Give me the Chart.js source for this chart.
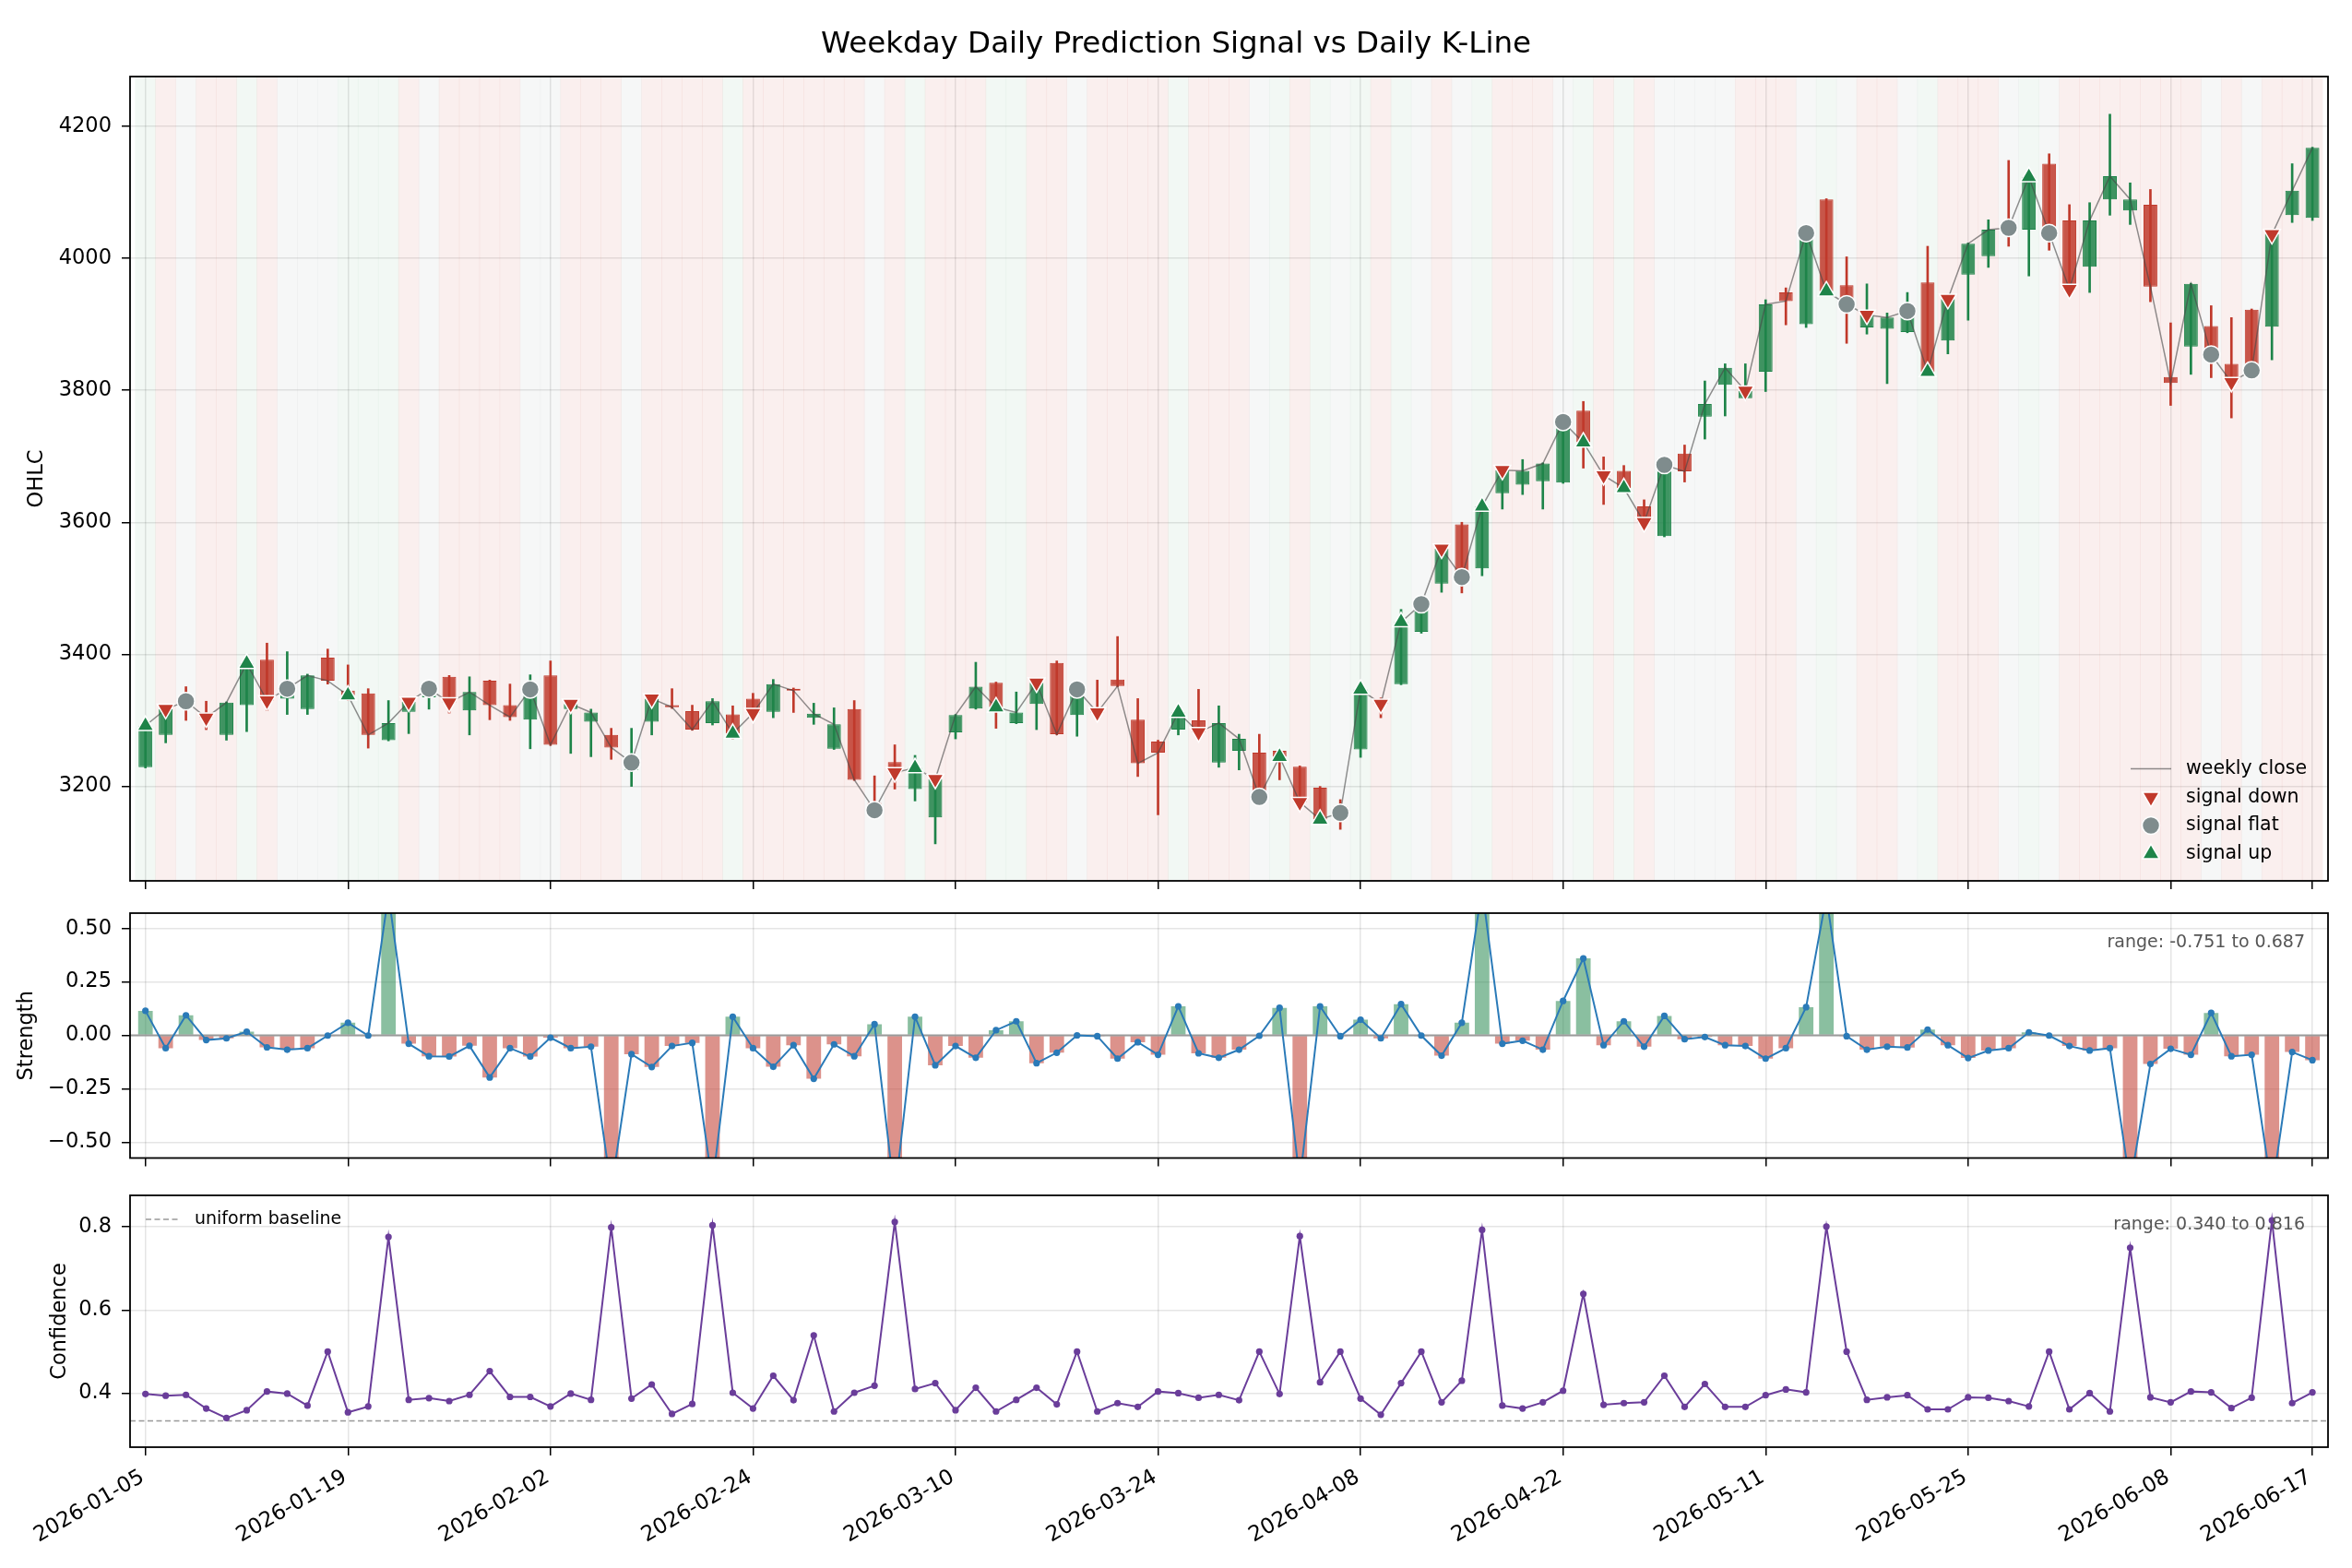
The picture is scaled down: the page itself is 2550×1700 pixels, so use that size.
<!DOCTYPE html>
<html>
<head>
<meta charset="utf-8">
<script src="https://cdn.jsdelivr.net/npm/chart.js"></script>
<style>
  html, body { margin: 0; padding: 0; background: #fff; }
  #wrap { position: relative; width: 2550px; height: 1700px; }
  canvas { position: absolute; left: 0; }
</style>
</head>
<body>
<div id="wrap">
  <canvas id="ohlc" width="2550" height="1000" style="top:0px"></canvas>
  <canvas id="strength" width="2550" height="320" style="top:960px"></canvas>
  <canvas id="conf" width="2550" height="430" style="top:1270px"></canvas>
</div>
<script>
// trading days (index axis)
const DATES = [
  '2026-01-05','2026-01-06','2026-01-07','2026-01-08','2026-01-09','2026-01-12','2026-01-13','2026-01-14','2026-01-15','2026-01-16',
  '2026-01-19','2026-01-20','2026-01-21','2026-01-22','2026-01-23','2026-01-26','2026-01-27','2026-01-28','2026-01-29','2026-01-30',
  '2026-02-02','2026-02-03','2026-02-04','2026-02-05','2026-02-06','2026-02-09','2026-02-10','2026-02-11','2026-02-12','2026-02-13',
  '2026-02-24','2026-02-25','2026-02-26','2026-02-27','2026-03-02','2026-03-03','2026-03-04','2026-03-05','2026-03-06','2026-03-09',
  '2026-03-10','2026-03-11','2026-03-12','2026-03-13','2026-03-16','2026-03-17','2026-03-18','2026-03-19','2026-03-20','2026-03-23',
  '2026-03-24','2026-03-25','2026-03-26','2026-03-27','2026-03-30','2026-03-31','2026-04-01','2026-04-02','2026-04-03','2026-04-07',
  '2026-04-08','2026-04-09','2026-04-10','2026-04-13','2026-04-14','2026-04-15','2026-04-16','2026-04-17','2026-04-20','2026-04-21',
  '2026-04-22','2026-04-23','2026-04-24','2026-04-27','2026-04-28','2026-04-29','2026-04-30','2026-05-06','2026-05-07','2026-05-08',
  '2026-05-11','2026-05-12','2026-05-13','2026-05-14','2026-05-15','2026-05-18','2026-05-19','2026-05-20','2026-05-21','2026-05-22',
  '2026-05-25','2026-05-26','2026-05-27','2026-05-28','2026-05-29','2026-06-01','2026-06-02','2026-06-03','2026-06-04','2026-06-05',
  '2026-06-08','2026-06-09','2026-06-10','2026-06-11','2026-06-12','2026-06-15','2026-06-16','2026-06-17'
];

const OPEN = [
  3229,3278,3336,3312,3278,3323,3392,3333,3317,3395, 3345,3341,3270,3313,3335,3366,3315,3360,3323,3301,
  3368,3317,3298,3278,3225,3298,3323,3314,3296,3309, 3333,3313,3348,3304,3257,3317,3175,3237,3196,3153,
  3282,3318,3357,3296,3325,3387,3308,3319,3362,3301, 3268,3286,3300,3236,3254,3251,3254,3230,3198,3170,
  3256,3333,3355,3434,3507,3597,3530,3644,3657,3662, 3660,3769,3679,3678,3624,3579,3704,3760,3808,3788,
  3828,3948,3900,4089,3959,3895,3893,3888,3963,3875, 3975,4003,4051,4043,4143,4057,3987,4089,4072,4081,
  3820,3866,3897,3840,3922,3896,4065,4061
];
const HIGH = [
  3296,3322,3351,3329,3328,3390,3417,3404,3370,3408, 3384,3348,3330,3331,3350,3368,3366,3361,3355,3369,
  3390,3327,3317,3288,3288,3335,3348,3323,3333,3322, 3341,3362,3349,3326,3319,3330,3216,3263,3247,3213,
  3309,3388,3358,3343,3360,3390,3350,3361,3427,3333, 3270,3315,3347,3322,3279,3279,3256,3231,3200,3180,
  3350,3334,3468,3478,3562,3600,3626,3681,3695,3690, 3754,3783,3699,3686,3634,3689,3717,3814,3840,3840,
  3937,3955,4040,4090,4002,3961,3917,3948,4018,3940, 4023,4058,4148,4125,4158,4081,4084,4218,4114,4104,
  3902,3962,3928,3910,3923,4038,4143,4168
];
const LOW = [
  3228,3266,3300,3286,3270,3283,3315,3309,3309,3355, 3330,3258,3269,3280,3317,3311,3278,3301,3300,3257,
  3262,3250,3245,3241,3200,3278,3318,3285,3293,3272, 3300,3304,3312,3294,3256,3209,3160,3196,3178,3113,
  3272,3317,3288,3295,3286,3278,3276,3305,3351,3215, 3157,3278,3275,3229,3225,3182,3210,3172,3145,3135,
  3244,3304,3354,3432,3494,3493,3519,3620,3642,3620, 3659,3682,3627,3645,3592,3578,3661,3726,3761,3786,
  3798,3899,3895,3945,3871,3885,3810,3887,3825,3855, 3906,3986,4018,3973,4012,3948,3948,4065,4051,3934,
  3777,3824,3819,3758,3825,3846,4054,4057
];
const CLOSE = [
  3292,3317,3329,3304,3327,3386,3330,3348,3368,3360, 3338,3278,3296,3328,3348,3327,3343,3323,3305,3347,
  3263,3325,3312,3259,3236,3333,3320,3286,3329,3280, 3311,3355,3345,3310,3294,3210,3164,3221,3228,3211,
  3308,3351,3320,3312,3357,3279,3347,3312,3352,3235, 3251,3312,3282,3296,3272,3184,3245,3176,3150,3160,
  3347,3325,3449,3476,3560,3517,3624,3679,3678,3689, 3752,3721,3671,3652,3600,3687,3677,3779,3834,3799,
  3930,3935,4038,3950,3930,3914,3910,3920,3828,3938, 4022,4043,4046,4123,4038,3953,4057,4124,4089,3957,
  3811,3961,3854,3812,3830,4036,4102,4167
];

// daily prediction signal
const SIGNALS = [
  'up','down','flat','down','down','up','down','flat','flat','flat',
  'up','up','up','down','flat','down','down','down','down','flat',
  'flat','down','down','down','flat','down','down','down','down','up',
  'down','down','down','down','down','down','flat','down','up','down',
  'down','down','up','up','down','down','flat','down','down','down',
  'down','up','down','down','down','flat','up','down','up','flat',
  'up','down','up','flat','down','flat','up','down','down','down',
  'flat','up','down','up','down','flat','flat','flat','flat','down',
  'down','down','flat','up','flat','down','down','flat','up','down',
  'down','down','flat','up','flat','down','down','down','down','down',
  'down','down','flat','down','flat','down','down','down'
];

const STRENGTH = [
  0.115,-0.060,0.094,-0.022,-0.014,0.017,-0.056,-0.067,-0.060,-0.001,
  0.059,-0.001,0.660,-0.039,-0.098,-0.099,-0.049,-0.197,-0.060,-0.099,
  -0.011,-0.060,-0.053,-0.720,-0.088,-0.148,-0.050,-0.035,-0.700,0.087,
  -0.060,-0.147,-0.046,-0.203,-0.042,-0.098,0.052,-0.751,0.087,-0.140,
  -0.050,-0.105,0.024,0.066,-0.130,-0.081,0.000,-0.004,-0.109,-0.032,
  -0.091,0.136,-0.084,-0.105,-0.067,-0.002,0.129,-0.680,0.136,-0.004,
  0.073,-0.014,0.146,-0.001,-0.095,0.059,0.687,-0.039,-0.025,-0.067,
  0.161,0.360,-0.046,0.066,-0.053,0.091,-0.018,-0.008,-0.046,-0.050,
  -0.109,-0.060,0.132,0.650,-0.004,-0.067,-0.053,-0.057,0.027,-0.046,
  -0.106,-0.071,-0.060,0.014,-0.001,-0.050,-0.071,-0.060,-0.700,-0.134,
  -0.063,-0.091,0.105,-0.098,-0.091,-0.730,-0.078,-0.116
];

const CONFIDENCE = [
  0.398,0.394,0.396,0.363,0.340,0.359,0.404,0.399,0.370,0.500,
  0.354,0.368,0.776,0.384,0.388,0.381,0.396,0.453,0.391,0.391,
  0.368,0.399,0.384,0.799,0.387,0.421,0.350,0.374,0.804,0.401,
  0.363,0.442,0.383,0.539,0.356,0.401,0.418,0.812,0.410,0.424,
  0.359,0.413,0.356,0.384,0.413,0.373,0.500,0.356,0.376,0.367,
  0.404,0.400,0.389,0.396,0.383,0.500,0.398,0.778,0.426,0.500,
  0.387,0.348,0.424,0.500,0.378,0.430,0.793,0.370,0.363,0.378,
  0.406,0.639,0.372,0.376,0.378,0.442,0.367,0.422,0.367,0.367,
  0.395,0.409,0.402,0.801,0.500,0.384,0.390,0.395,0.361,0.361,
  0.390,0.389,0.381,0.368,0.500,0.361,0.400,0.356,0.750,0.390,
  0.378,0.404,0.402,0.364,0.389,0.816,0.376,0.402
];

const X_TICKS = [0, 10, 20, 30, 40, 50, 60, 70, 80, 90, 100, 107];
const OHLC_TICKS = [3200, 3400, 3600, 3800, 4000, 4200];
const STRENGTH_TICKS = [-0.5, -0.25, 0, 0.25, 0.5];
const CONF_TICKS = [0.4, 0.6, 0.8];
const UNIFORM = 1 / 3;

// ---- look ----
const X_MIN = -0.76, X_MAX = 107.77;
const FONT = '"DejaVu Sans", sans-serif';
const COLORS = { up: '#1e8449', down: '#c0392b', flat: '#7f8c8d' };
const BAND = { up: 'rgba(30,132,73,0.06)', down: 'rgba(192,57,43,0.08)', flat: 'rgba(127,140,141,0.07)' };
const BODY = { up: 'rgba(30,132,73,0.85)', down: 'rgba(192,57,43,0.85)' };
const GRID = 'rgba(0,0,0,0.1)';
const CLOSE_LINE = 'rgba(70,70,70,0.6)';
const TRI_R = 10.5, DOT_R = 9.5;

Chart.defaults.font.family = FONT;
Chart.defaults.color = '#000';
Chart.defaults.animation = false;

const idx = DATES.map((_, i) => i);
const dir = idx.map(i => CLOSE[i] >= OPEN[i] ? 'up' : 'down');
const changes = idx.filter(i => i === 0 || SIGNALS[i] !== SIGNALS[i - 1]);

function xAxis(showLabels, height) {
  return {
    type: 'linear', min: X_MIN, max: X_MAX, offset: false,
    afterBuildTicks: s => { s.ticks = X_TICKS.map(v => ({ value: v })); },
    afterFit: s => { s.height = height; },
    grid: { offset: false, color: GRID, lineWidth: 1.5, tickColor: '#000', tickLength: 9, tickWidth: 1.5 },
    border: { display: false },
    ticks: showLabels
      ? { autoSkip: false, minRotation: 30, maxRotation: 30, padding: 10, labelOffset: -3,
          font: { size: 23 }, color: '#000', callback: v => DATES[v] }
      : { display: false }
  };
}

function yAxis(ticks, min, max, title, titlePad, fmt) {
  return {
    position: 'left', min: min, max: max,
    afterBuildTicks: s => { s.ticks = ticks.map(v => ({ value: v })); },
    afterFit: s => { s.width = 141; },
    grid: { color: GRID, lineWidth: 1.5, tickColor: '#000', tickLength: 9, tickWidth: 1.5 },
    border: { display: false },
    ticks: { font: { size: 22.5 }, color: '#000', padding: 11, callback: fmt },
    title: { display: true, text: title, font: { size: 22.5 }, color: '#000', padding: { top: titlePad, bottom: 0 } }
  };
}

const frame = {
  id: 'frame',
  afterDraw(chart) {
    const { ctx, chartArea: a } = chart;
    ctx.save();
    ctx.strokeStyle = '#000';
    ctx.lineWidth = 1.8;
    ctx.strokeRect(a.left, a.top, a.right - a.left, a.bottom - a.top);
    ctx.restore();
  }
};

function marker(ctx, kind, x, y) {
  ctx.beginPath();
  if (kind === 'flat') {
    ctx.arc(x, y, DOT_R, 0, Math.PI * 2);
  } else {
    const r = TRI_R, s = kind === 'up' ? -1 : 1;
    ctx.moveTo(x, y + s * r);
    ctx.lineTo(x - r * 0.866, y - s * r / 2);
    ctx.lineTo(x + r * 0.866, y - s * r / 2);
    ctx.closePath();
  }
  ctx.fillStyle = COLORS[kind];
  ctx.fill();
  ctx.strokeStyle = '#fff';
  ctx.lineWidth = 1.5;
  ctx.stroke();
}

const ohlcLegend = {
  id: 'ohlcLegend',
  afterDraw(chart) {
    const { ctx, chartArea: a } = chart;
    const rows = [['weekly close', 'line'], ['signal down', 'down'], ['signal flat', 'flat'], ['signal up', 'up']];
    ctx.save();
    ctx.font = '20.5px ' + FONT;
    ctx.textBaseline = 'middle';
    ctx.textAlign = 'left';
    rows.forEach(([label, kind], k) => {
      const y = a.bottom - 121.4 + k * 30.7;
      if (kind === 'line') {
        ctx.strokeStyle = CLOSE_LINE;
        ctx.lineWidth = 1.5;
        ctx.beginPath();
        ctx.moveTo(a.right - 214, y);
        ctx.lineTo(a.right - 170, y);
        ctx.stroke();
      } else {
        marker(ctx, kind, a.right - 192, y);
      }
      ctx.fillStyle = '#000';
      ctx.fillText(label, a.right - 154, y);
    });
    ctx.restore();
  }
};

const confLegend = {
  id: 'confLegend',
  afterDraw(chart) {
    const { ctx, chartArea: a } = chart;
    const y = a.top + 26;
    ctx.save();
    ctx.strokeStyle = '#999';
    ctx.lineWidth = 1.5;
    ctx.setLineDash([6, 3.5]);
    ctx.beginPath();
    ctx.moveTo(a.left + 17, y);
    ctx.lineTo(a.left + 54, y);
    ctx.stroke();
    ctx.setLineDash([]);
    ctx.font = '19px ' + FONT;
    ctx.textBaseline = 'middle';
    ctx.fillStyle = '#000';
    ctx.fillText('uniform baseline', a.left + 70, y);
    ctx.restore();
  }
};

function rangeNote(values) {
  const text = 'range: ' + Math.min(...values).toFixed(3) + ' to ' + Math.max(...values).toFixed(3);
  return {
    id: 'rangeNote',
    afterDraw(chart) {
      const { ctx, chartArea: a } = chart;
      ctx.save();
      ctx.font = '19px ' + FONT;
      ctx.textAlign = 'right';
      ctx.textBaseline = 'alphabetic';
      ctx.fillStyle = '#555';
      ctx.fillText(text, a.right - 25, a.top + 37);
      ctx.restore();
    }
  };
}

const common = { responsive: false, devicePixelRatio: 1, animation: false, events: [] };

// ---- panel 1: K-line ----
new Chart(document.getElementById('ohlc'), {
  type: 'bar',
  data: {
    datasets: [
      {
        label: 'band', yAxisID: 'yb', grouped: false, order: 10,
        data: idx.map(i => ({ x: i, y: [0, 1] })),
        backgroundColor: idx.map(i => BAND[SIGNALS[i]]),
        barPercentage: 1, categoryPercentage: 1, borderWidth: 0
      },
      {
        label: 'wick', grouped: false, order: 6,
        data: idx.map(i => ({ x: i, y: [LOW[i], HIGH[i]] })),
        backgroundColor: idx.map(i => COLORS[dir[i]]),
        barThickness: 2, borderWidth: 0
      },
      {
        label: 'body', grouped: false, order: 5,
        data: idx.map(i => ({ x: i, y: [OPEN[i], CLOSE[i]] })),
        backgroundColor: idx.map(i => BODY[dir[i]]),
        borderColor: idx.map(i => COLORS[dir[i]]),
        borderWidth: 1, borderSkipped: false,
        barPercentage: 0.68, categoryPercentage: 1
      },
      {
        type: 'line', label: 'weekly close', order: 3,
        data: idx.map(i => ({ x: i, y: CLOSE[i] })),
        borderColor: CLOSE_LINE, borderWidth: 1.5, pointRadius: 0, tension: 0
      },
      ...['down', 'flat', 'up'].map(kind => ({
        type: 'line', label: 'signal ' + kind, order: 1, showLine: false,
        data: changes.filter(i => SIGNALS[i] === kind).map(i => ({ x: i, y: CLOSE[i] })),
        pointStyle: kind === 'flat' ? 'circle' : 'triangle',
        pointRotation: kind === 'down' ? 180 : 0,
        pointRadius: kind === 'flat' ? DOT_R : TRI_R,
        pointBackgroundColor: COLORS[kind],
        pointBorderColor: '#fff',
        pointBorderWidth: 1.5
      }))
    ]
  },
  options: {
    ...common,
    layout: { padding: 0 },
    plugins: {
      legend: { display: false },
      tooltip: { enabled: false },
      title: {
        display: true,
        text: 'Weekday Daily Prediction Signal vs Daily K-Line',
        color: '#000',
        font: { size: 32.5, weight: 'normal' },
        padding: { top: 29, bottom: 15 }
      }
    },
    scales: {
      x: xAxis(false, 45),
      y: yAxis(OHLC_TICKS, 3057, 4275, 'OHLC', 26.5, v => String(v)),
      yb: { display: false, min: 0, max: 1 },
      pad: {
        position: 'right', display: true,
        ticks: { display: false }, grid: { display: false }, border: { display: false },
        afterFit: s => { s.width = 26; }
      }
    }
  },
  plugins: [frame, ohlcLegend]
});

// ---- panel 2: strength ----
const fmtStrength = v => (v < 0 ? '\u2212' : '') + Math.abs(v).toFixed(2);
new Chart(document.getElementById('strength'), {
  type: 'bar',
  data: {
    datasets: [
      {
        label: 'strength bars', order: 3,
        data: idx.map(i => ({ x: i, y: STRENGTH[i] })),
        backgroundColor: idx.map(i => STRENGTH[i] >= 0 ? 'rgba(30,132,73,0.52)' : 'rgba(192,57,43,0.55)'),
        barPercentage: 0.72, categoryPercentage: 1, borderWidth: 0
      },
      {
        type: 'line', label: 'zero', order: 2,
        data: [{ x: X_MIN, y: 0 }, { x: X_MAX, y: 0 }],
        borderColor: '#9a9a9a', borderWidth: 2, pointRadius: 0
      },
      {
        type: 'line', label: 'strength', order: 1,
        data: idx.map(i => ({ x: i, y: STRENGTH[i] })),
        borderColor: '#2a7ab8', borderWidth: 2, tension: 0,
        pointRadius: 3.6, pointBackgroundColor: '#2a7ab8', pointBorderWidth: 0
      }
    ]
  },
  options: {
    ...common,
    layout: { padding: { top: 30, right: 26, left: 0, bottom: 0 } },
    plugins: { legend: { display: false }, tooltip: { enabled: false } },
    scales: {
      x: xAxis(false, 17.7),
      y: yAxis(STRENGTH_TICKS, -0.574, 0.572, 'Strength', 15.5, fmtStrength)
    }
  },
  plugins: [frame, rangeNote(STRENGTH)]
});

// ---- panel 3: confidence ----
new Chart(document.getElementById('conf'), {
  type: 'line',
  data: {
    datasets: [
      {
        label: 'uniform baseline', order: 2,
        data: [{ x: X_MIN, y: UNIFORM }, { x: X_MAX, y: UNIFORM }],
        borderColor: '#999', borderWidth: 1.5, borderDash: [6, 3.5], pointRadius: 0
      },
      {
        label: 'confidence', order: 1,
        data: idx.map(i => ({ x: i, y: CONFIDENCE[i] })),
        borderColor: '#6a3d9a', borderWidth: 2, tension: 0,
        pointRadius: 3.6, pointBackgroundColor: '#6a3d9a', pointBorderWidth: 0
      }
    ]
  },
  options: {
    ...common,
    layout: { padding: { top: 26, right: 26, left: 0, bottom: 0 } },
    plugins: { legend: { display: false }, tooltip: { enabled: false } },
    scales: {
      x: xAxis(true, 131),
      y: yAxis(CONF_TICKS, 0.270, 0.876, 'Confidence', 51.5, v => v.toFixed(1))
    }
  },
  plugins: [frame, confLegend, rangeNote(CONFIDENCE)]
});
</script>
</body>
</html>
